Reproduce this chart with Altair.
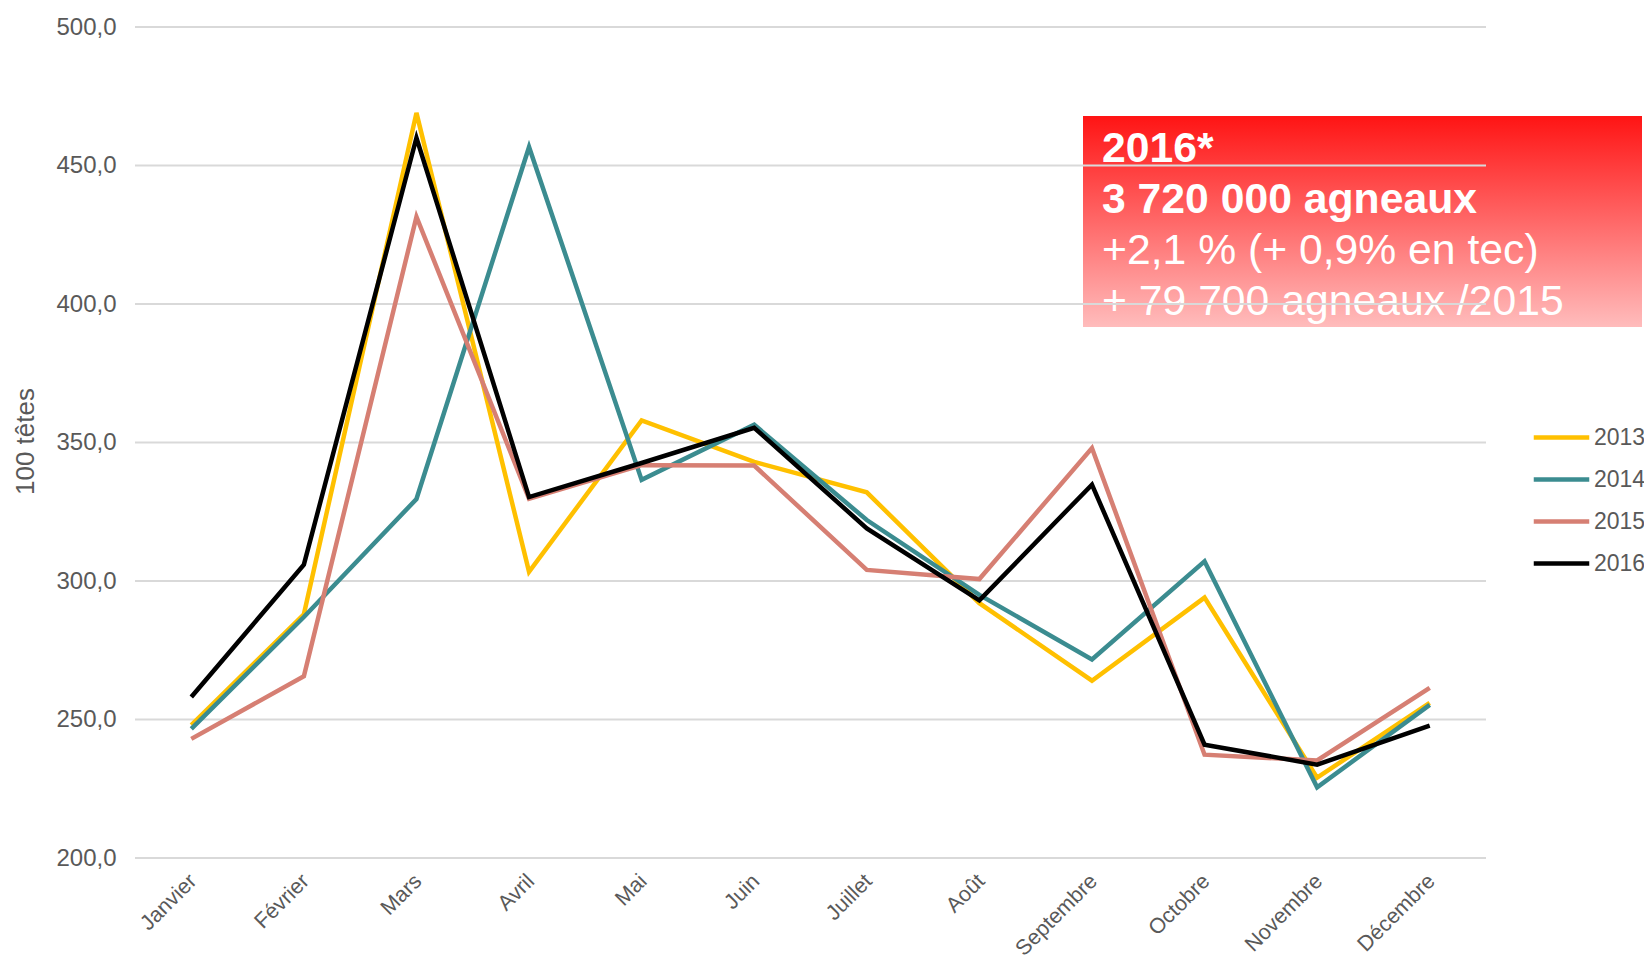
import altair as alt
import pandas as pd

months = ["Janvier", "Février", "Mars", "Avril", "Mai", "Juin", "Juillet",
          "Août", "Septembre", "Octobre", "Novembre", "Décembre"]
years = ["2013", "2014", "2015", "2016"]
colors = ["#ffc000", "#3b8c90", "#d67f73", "#000000"]

v2013 = [248.0, 288.0, 469.0, 303.3, 358.0, 343.0, 332.0, 292.0, 264.0, 294.0, 229.0, 256.0]
v2014 = [246.6, 287.0, 329.6, 456.7, 336.5, 356.4, 322.0, 295.0, 271.7, 307.1, 225.5, 255.3]
v2015 = [243.0, 265.6, 431.5, 329.7, 341.8, 341.7, 304.0, 300.7, 348.0, 237.3, 235.2, 261.4]
v2016 = [258.1, 305.9, 460.0, 330.3, 342.6, 355.3, 319.0, 293.0, 334.8, 240.9, 233.7, 247.8]

y_ticks = [200, 250, 300, 350, 400, 450, 500]

box_lines = ["2016*", "3 720 000 agneaux", "+2,1 % (+ 0,9% en tec)", "+ 79 700 agneaux /2015"]
box_bold = ["bold", "bold", "normal", "normal"]

rows = []
for yr, vals in zip(years, [v2013, v2014, v2015, v2016]):
    for m, v in zip(months, vals):
        rows.append({"mois": m, "annee": yr, "valeur": v})
df = pd.DataFrame(rows)
grid_df = pd.DataFrame({"v": y_ticks})

FONT = "Liberation Sans"
GREY = "#595959"

yscale = alt.Scale(domain=[200, 500], nice=False, zero=False)
yaxis = alt.Axis(
    values=y_ticks, grid=False, domain=False, ticks=False,
    labelExpr="replace(format(datum.value, '.1f'), '.', ',')",
    labelFont=FONT, labelFontSize=24, labelColor=GREY, labelPadding=19,
    title="100 têtes", titleFont=FONT, titleFontSize=26, titleFontWeight="normal",
    titleColor=GREY, titleX=-110, titleY=414, titleAngle=-90,
    titleAlign="center", titleBaseline="middle",
)

W, H = 1351, 831

box = alt.Chart(pd.DataFrame({"a": [0]})).mark_rect(
    color=alt.Gradient(
        gradient="linear",
        stops=[alt.GradientStop(color="#ff1414", offset=0),
               alt.GradientStop(color="#ffbcbc", offset=1)],
        x1=0, x2=0, y1=0, y2=1,
    )
).encode(x=alt.value(948), x2=alt.value(1507), y=alt.value(89), y2=alt.value(300))

text_layers = []
baselines = [135, 186, 237, 288]
for line, weight, yb in zip(box_lines, box_bold, baselines):
    text_layers.append(
        alt.Chart(pd.DataFrame({"t": [line]})).mark_text(
            font=FONT, fontSize=42.7, fontWeight=weight, color="white",
            align="left", baseline="alphabetic",
        ).encode(text="t:N", x=alt.value(967), y=alt.value(yb))
    )

grid = alt.Chart(grid_df).mark_rule(color="#d9d9d9", strokeWidth=2).encode(
    y=alt.Y("v:Q", scale=yscale, axis=yaxis)
)

lines = alt.Chart(df).mark_line(strokeWidth=4.5, strokeJoin="miter").encode(
    x=alt.X("mois:N", sort=months, scale=alt.Scale(type="point", padding=0.5),
            axis=alt.Axis(title=None, domain=False, ticks=False, grid=False,
                          labelAngle=-45, labelAlign="right", labelBaseline="top",
                          labelFont=FONT, labelFontSize=21.5, labelColor=GREY,
                          labelPadding=12, labelOffset=-6)),
    y=alt.Y("valeur:Q", scale=yscale, axis=yaxis),
    color=alt.Color("annee:N", scale=alt.Scale(domain=years, range=colors),
                    legend=alt.Legend(
                        title=None, orient="none", legendX=1409, legendY=393,
                        symbolType="M-1.85,0H1.85", symbolSize=900,
                        symbolStrokeWidth=4.5, labelOffset=15,
                        labelFont=FONT, labelFontSize=23, labelColor=GREY,
                        rowPadding=12,
                    )),
)

chart = alt.layer(box, *text_layers, grid, lines).properties(
    width=W, height=H,
    autosize=alt.AutoSizeParams(type="none"),
    padding={"left": 127, "top": 19, "right": 158, "bottom": 102},
).configure_view(stroke=None)

chart.save("out.html", embed_options={"renderer": "svg", "actions": False})
